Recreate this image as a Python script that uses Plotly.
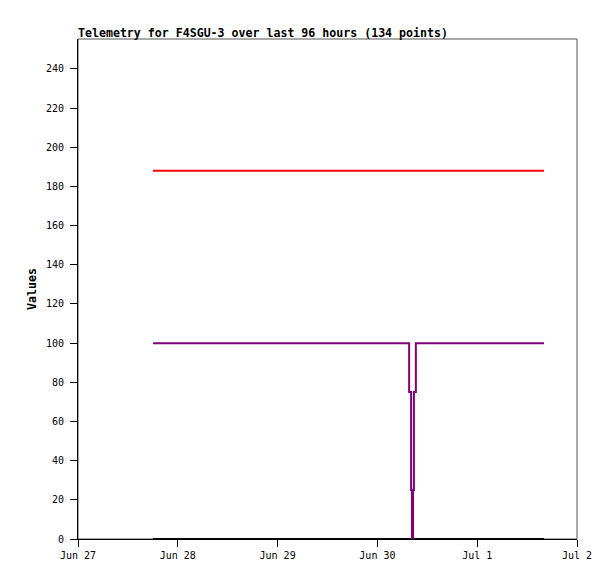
import plotly.graph_objects as go

# telemetry channels, flat except the purple dip on Jun 30
red_times = ["2024-06-27 18:02", "2024-07-01 16:04"]
red_values = [188, 188]

purple_times = ["2024-06-27 18:02", "2024-06-30 07:38", "2024-06-30 08:06",
                "2024-06-30 08:19", "2024-06-30 08:34", "2024-06-30 08:47",
                "2024-06-30 09:15", "2024-07-01 16:04"]
purple_values = [100, 75, 25, 0, 25, 75, 100, 100]

black_times = ["2024-06-27 18:02", "2024-07-01 16:04"]
black_values = [0, 0]

x_ticks = ["2024-06-27", "2024-06-28", "2024-06-29", "2024-06-30", "2024-07-01", "2024-07-02"]
x_labels = ["Jun 27", "Jun 28", "Jun 29", "Jun 30", "Jul 1", "Jul 2"]

mono = "DejaVu Sans Mono"

fig = go.Figure()
fig.add_trace(go.Scatter(x=black_times, y=black_values, mode="lines",
                         line=dict(color="#000000", width=2, shape="hv")))
fig.add_trace(go.Scatter(x=red_times, y=red_values, mode="lines",
                         line=dict(color="#ff0000", width=2, shape="hv")))
fig.add_trace(go.Scatter(x=purple_times, y=purple_values, mode="lines",
                         line=dict(color="#800080", width=2, shape="hv")))

# gray frame for top/right, left/bottom axis lines go over it in black
fig.add_shape(type="rect", xref="paper", yref="paper", x0=0, y0=0, x1=1, y1=1,
              line=dict(color="#555555", width=1), layer="below")

fig.add_annotation(text="<b>Values</b>", xref="paper", yref="paper",
                   x=(32 - 78) / 499, y=0.5, xanchor="center", yanchor="middle",
                   textangle=-90, showarrow=False,
                   font=dict(family=mono, size=11.6, color="#000000"))

# page body has an 8px margin, so the margins here are shifted by that
fig.update_layout(
    width=615, height=579,
    margin=dict(l=70, r=46, t=31, b=48),
    paper_bgcolor="white", plot_bgcolor="white",
    showlegend=False,
    font=dict(family=mono, size=10, color="#000000"),
    title=dict(text="<b>Telemetry for F4SGU-3 over last 96 hours (134 points)</b>",
               xref="paper", x=0, xanchor="left",
               yref="paper", y=1, yanchor="bottom", pad=dict(b=2),
               font=dict(family=mono, size=11.6, color="#000000")),
)
fig.update_xaxes(type="date", range=["2024-06-27", "2024-07-02"],
                 tickvals=x_ticks, ticktext=x_labels,
                 showgrid=False, zeroline=False,
                 showline=True, linecolor="#000000", linewidth=1,
                 ticks="outside", ticklen=7, tickcolor="#000000")
fig.update_yaxes(range=[0, 255.3], tickvals=list(range(0, 241, 20)),
                 showgrid=False, zeroline=False,
                 showline=True, linecolor="#000000", linewidth=1,
                 ticks="outside", ticklen=7, tickcolor="#000000",
                 ticklabelstandoff=4)

fig.write_html("out.html")
